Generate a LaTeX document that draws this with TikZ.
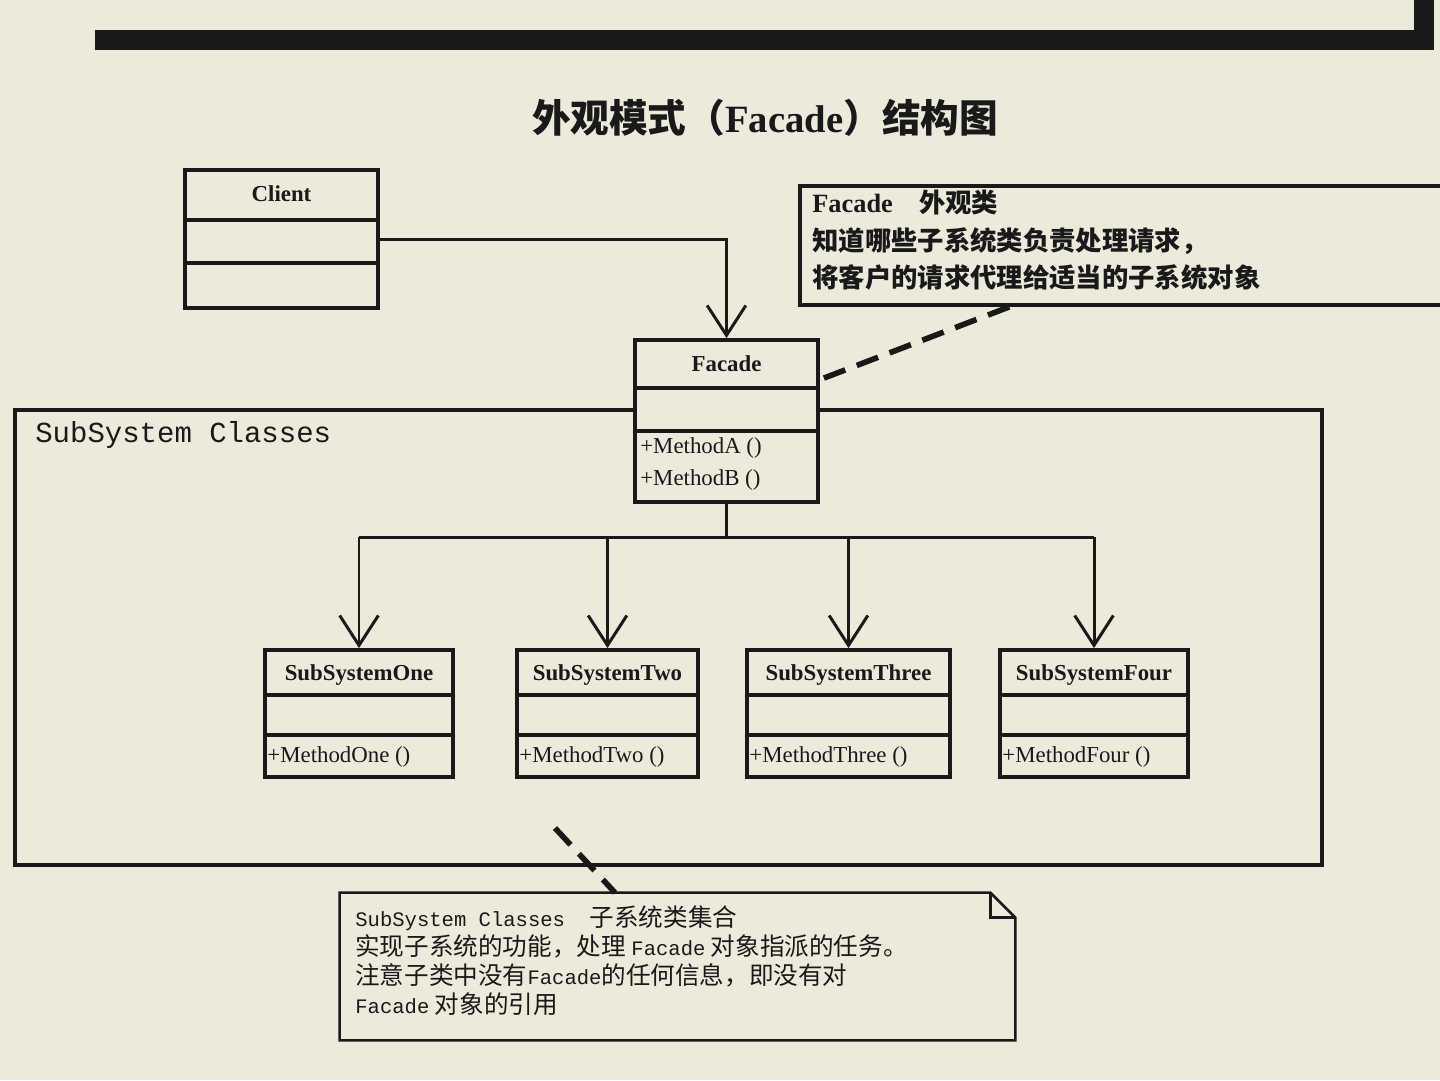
\documentclass[tikz,border=0pt]{standalone}
\usepackage{fontspec}
\setmainfont{Liberation Serif}
\setmonofont{Liberation Mono}
\newfontfamily\cjk{Noto Sans CJK SC}
\usetikzlibrary{arrows.meta, positioning, calc, fit}
\definecolor{bg}{RGB}{236,234,219}
\definecolor{ink}{RGB}{25,25,25}
\newcommand\lat[1]{{\ttfamily\fontsize{11.7}{16.7}\selectfont #1}}

\begin{document}
\begin{tikzpicture}[x=0.02cm, y=-0.02cm, >={Straight Barb[length=17pt,width=22pt]},
    umlbox/.style={draw=ink, line width=2.2pt, fill=bg, inner sep=0pt},
    divider/.style={draw=ink, line width=2pt},
    link/.style={draw=ink, line width=1.7pt},
    notelink/.style={draw=ink, line width=3.2pt, dash pattern=on 13pt off 7pt},
    cname/.style={font=\fontsize{13}{15}\selectfont\bfseries, text=ink, inner sep=0pt},
    cop/.style={font=\fontsize{13}{15}\selectfont, text=ink, anchor=west, inner sep=0pt}]
    \clip (0,0) rectangle (1440,1080);
    \fill[bg] (0,0) rectangle (1440,1080);

    % frame of the window above
    \draw[ink, line width=11pt] (95,40) -- (1424,40) -- (1424,-10);

    \node[text=ink, font=\cjk\bfseries\fontsize{22}{26}\selectfont] (title) at (765,118) {外观模式（{\rmfamily\bfseries Facade}）结构图};

    % package
    \node[draw=ink, line width=2pt, inner sep=0pt, fit={(15,410) (1322,865)}] (pkg) {};
    \node[anchor=west, text=ink, font=\ttfamily\fontsize{16.5}{18}\selectfont, inner sep=0pt] (pkglabel) at (35,435) {SubSystem Classes};

    % client
    \node[umlbox, fit={(185,170) (378,308)}] (client) {};
    \draw[divider] ($(client.north west)+(0,52)$) -- ($(client.north east)+(0,52)$);
    \draw[divider] ($(client.north west)+(0,95)$) -- ($(client.north east)+(0,95)$);
    \node[cname, below=10pt of client.north] (clientname) {Client};

    % facade
    \node[umlbox, fit={(635,340) (818,502)}] (facade) {};
    \draw[divider] ($(facade.north west)+(0,50)$) -- ($(facade.north east)+(0,50)$);
    \draw[divider] ($(facade.north west)+(0,93)$) -- ($(facade.north east)+(0,93)$);
    \node[cname, below=10pt of facade.north] (facadename) {Facade};
    \node[cop] (opa) at (640,448) {+MethodA ()};
    \node[cop] (opb) at (640,480) {+MethodB ()};

    \draw[link,->] (client.east) -| (facade.north);

    % subsystems
    \foreach \nm/\lbl/\xa/\xb in {one/One/265/453, two/Two/517/698, three/Three/747/950, four/Four/1000/1188} {
        \node[umlbox, fit={(\xa,650) (\xb,777)}] (\nm) {};
        \draw[divider] ($(\nm.north west)+(0,47)$) -- ($(\nm.north east)+(0,47)$);
        \draw[divider] ($(\nm.north west)+(0,87)$) -- ($(\nm.north east)+(0,87)$);
        \node[cname, below=9pt of \nm.north] (\nm-name) {SubSystem\lbl};
        \node[cop] (\nm-op) at ($(\nm.south west)+(4,-22)$) {+Method\lbl\ ()};
    }

    \coordinate (bus) at (facade.south |- 0,537);
    \draw[link] (facade.south) -- (bus);
    \draw[link] (one.north |- bus) -- (four.north |- bus);
    \foreach \nm in {one,two,three,four}
        \draw[link,->] (\nm.north |- bus) -- (\nm.north);

    % notes
    \node[draw=ink, line width=1.8pt, fill=bg, inner sep=0pt, fit={(800,186) (1480,305)}] (fnote) {};
    \node[anchor=north west, align=left, inner sep=0pt, text=ink, font=\cjk\bfseries\fontsize{15}{21.3}\selectfont] (fnotetext) at (812,190)
        {{\rmfamily Facade}\quad 外观类\\ 知道哪些子系统类负责处理请求，\\ 将客户的请求代理给适当的子系统对象};
    \draw[notelink] ($(facade.north east)+(4,40)$) -- (fnote.south -| 1010,0);

    \node[inner sep=0pt, fit={(340,893) (1015,1040)}] (snote) {};
    \draw[ink, line width=1.5pt, fill=bg] (snote.north west) -- ($(snote.north east)+(-25,0)$) -- ($(snote.north east)+(0,25)$)
        -- (snote.south east) -- (snote.south west) -- cycle;
    \draw[ink, line width=1.5pt] ($(snote.north east)+(-25,0)$) |- ($(snote.north east)+(0,25)$);
    \node[anchor=north west, align=left, inner sep=0pt, text=ink, font=\cjk\fontsize{14}{16.6}\selectfont] (snotetext) at (355,905)
        {\lat{SubSystem Classes}\quad 子系统类集合\\ 实现子系统的功能，处理 \lat{Facade} 对象指派的任务。\\
         注意子类中没有\lat{Facade}的任何信息，即没有对\\ \lat{Facade} 对象的引用};
    \coordinate (pkgnote) at (555,828);
    \draw[notelink] (pkgnote) -- (snote.north -| 615,0);
\end{tikzpicture}
\end{document}
